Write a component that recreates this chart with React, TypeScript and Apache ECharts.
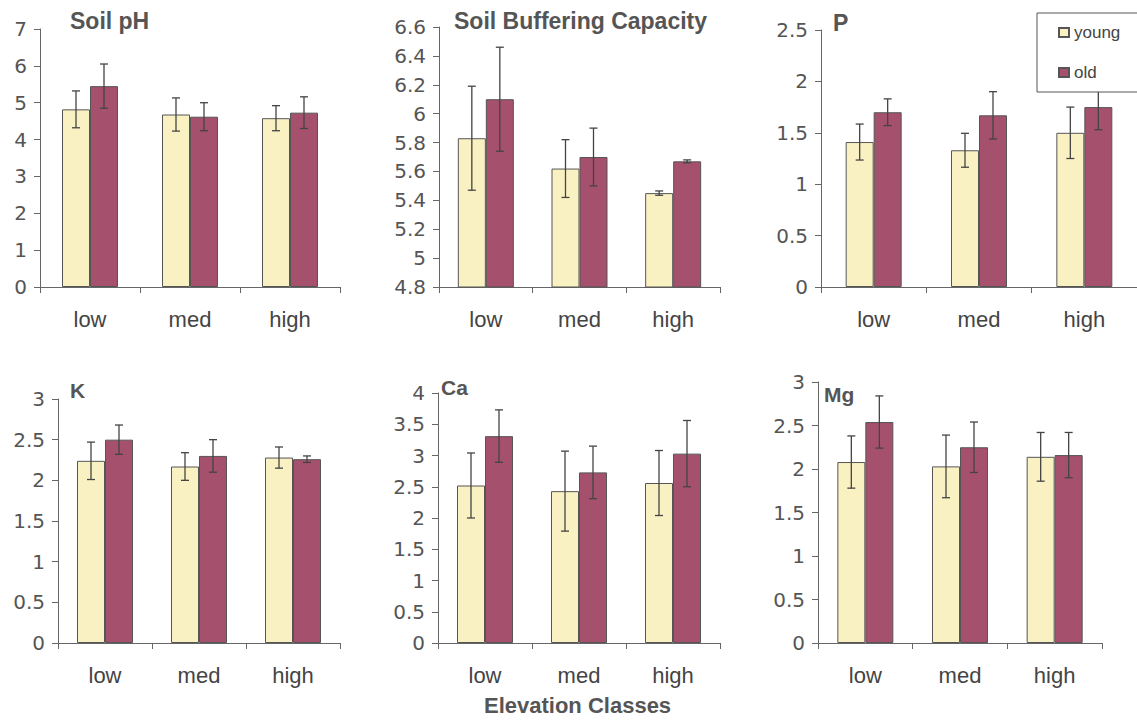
import React, { useEffect, useRef } from "react";
import * as echarts from "echarts";

const categories = ["low", "med", "high"];
const seriesNames = ["young", "old"];

const panelTitles = ["Soil pH", "Soil Buffering Capacity", "P", "K", "Ca", "Mg"];

const phYoung = [4.82, 4.68, 4.58];
const phYoungErr = [0.5, 0.45, 0.34];
const phOld = [5.45, 4.62, 4.73];
const phOldErr = [0.6, 0.38, 0.43];

const bufYoung = [5.83, 5.62, 5.45];
const bufYoungErr = [0.36, 0.2, 0.015];
const bufOld = [6.1, 5.7, 5.67];
const bufOldErr = [0.36, 0.2, 0.01];

const pYoung = [1.41, 1.33, 1.5];
const pYoungErr = [0.175, 0.165, 0.25];
const pOld = [1.7, 1.67, 1.75];
const pOldErr = [0.13, 0.23, 0.22];

const kYoung = [2.24, 2.17, 2.28];
const kYoungErr = [0.23, 0.17, 0.13];
const kOld = [2.5, 2.3, 2.26];
const kOldErr = [0.18, 0.2, 0.04];

const caYoung = [2.52, 2.43, 2.56];
const caYoungErr = [0.52, 0.64, 0.52];
const caOld = [3.31, 2.73, 3.03];
const caOldErr = [0.42, 0.42, 0.53];

const mgYoung = [2.08, 2.03, 2.14];
const mgYoungErr = [0.3, 0.36, 0.28];
const mgOld = [2.54, 2.25, 2.16];
const mgOldErr = [0.3, 0.29, 0.26];

// y axis ranges: [min, max, interval]
const yRanges = [
  [0, 7, 1],
  [4.8, 6.6, 0.2],
  [0, 2.5, 0.5],
  [0, 3, 0.5],
  [0, 4, 0.5],
  [0, 3, 0.5],
];

const xLabel = "Elevation Classes";

const YOUNG_COLOR = "#faf1c2";
const OLD_COLOR = "#a5506d";
const BORDER = "#555555";
const TEXT = "#555555";

export default function App() {
  const ref = useRef<HTMLDivElement>(null);

  useEffect(() => {
    if (!ref.current) return;
    const chart = echarts.init(ref.current, null, { renderer: "svg" });

    const panels = [
      { y: phYoung, ye: phYoungErr, o: phOld, oe: phOldErr },
      { y: bufYoung, ye: bufYoungErr, o: bufOld, oe: bufOldErr },
      { y: pYoung, ye: pYoungErr, o: pOld, oe: pOldErr },
      { y: kYoung, ye: kYoungErr, o: kOld, oe: kOldErr },
      { y: caYoung, ye: caYoungErr, o: caOld, oe: caOldErr },
      { y: mgYoung, ye: mgYoungErr, o: mgOld, oe: mgOldErr },
    ];

    const grids = [
      { left: 40, top: 29, width: 300, height: 258 },
      { left: 439, top: 27, width: 281, height: 260 },
      { left: 821, top: 30, width: 316, height: 257 },
      { left: 58, top: 399, width: 282, height: 244 },
      { left: 438, top: 393, width: 282, height: 250 },
      { left: 818, top: 382, width: 284, height: 261 },
    ];

    const titlePos = [
      { left: 70, top: 9, size: 23 },
      { left: 454, top: 9, size: 23 },
      { left: 833, top: 11, size: 23 },
      { left: 70, top: 380, size: 21 },
      { left: 441, top: 377, size: 21 },
      { left: 824, top: 384, size: 21 },
    ];

    const BAR_W = 28;

    const errRender = (offset: number) => (params: any, api: any) => {
      const x = api.value(0);
      const v = api.value(1);
      const e = api.value(2);
      const top = api.coord([x, v + e]);
      const bot = api.coord([x, v - e]);
      const cx = top[0] + offset;
      const cap = 4;
      const style = { stroke: "#444444", lineWidth: 1.3 };
      return {
        type: "group",
        children: [
          { type: "line", shape: { x1: cx, y1: top[1], x2: cx, y2: bot[1] }, style },
          { type: "line", shape: { x1: cx - cap, y1: top[1], x2: cx + cap, y2: top[1] }, style },
          { type: "line", shape: { x1: cx - cap, y1: bot[1], x2: cx + cap, y2: bot[1] }, style },
        ],
      };
    };

    const series: any[] = [];
    panels.forEach((p, i) => {
      series.push({
        name: seriesNames[0],
        type: "bar",
        xAxisIndex: i,
        yAxisIndex: i,
        data: p.y,
        barWidth: BAR_W,
        barGap: "0%",
        itemStyle: { color: YOUNG_COLOR, borderColor: BORDER, borderWidth: 1 },
      });
      series.push({
        name: seriesNames[1],
        type: "bar",
        xAxisIndex: i,
        yAxisIndex: i,
        data: p.o,
        barWidth: BAR_W,
        barGap: "0%",
        itemStyle: { color: OLD_COLOR, borderColor: BORDER, borderWidth: 1 },
      });
      series.push({
        type: "custom",
        xAxisIndex: i,
        yAxisIndex: i,
        z: 5,
        renderItem: errRender(-BAR_W / 2),
        data: p.y.map((v, k) => [k, v, p.ye[k]]),
        silent: true,
      });
      series.push({
        type: "custom",
        xAxisIndex: i,
        yAxisIndex: i,
        z: 5,
        renderItem: errRender(BAR_W / 2),
        data: p.o.map((v, k) => [k, v, p.oe[k]]),
        silent: true,
      });
    });

    const option: any = {
      animation: false,
      backgroundColor: "#ffffff",
      title: [
        ...panelTitles.map((t, i) => ({
          text: t,
          left: titlePos[i].left,
          top: titlePos[i].top,
          padding: 0,
          textStyle: {
            fontFamily: "Liberation Sans",
            fontWeight: "bold",
            fontSize: titlePos[i].size,
            color: TEXT,
          },
        })),
        {
          text: xLabel,
          left: 484,
          top: 694,
          padding: 0,
          textStyle: {
            fontFamily: "Liberation Sans",
            fontWeight: "bold",
            fontSize: 22,
            color: TEXT,
          },
        },
      ],
      legend: {
        data: seriesNames,
        orient: "vertical",
        left: 1037,
        top: 13,
        padding: [11, 30, 11, 21],
        itemGap: 23,
        itemWidth: 10,
        itemHeight: 9,
        borderColor: "#555555",
        borderWidth: 1,
        backgroundColor: "#ffffff",
        icon: "rect",
        textStyle: { fontFamily: "Liberation Sans", fontSize: 17, color: "#444444" },
        z: 20,
      },
      grid: grids.map((g) => ({ ...g, containLabel: false })),
      xAxis: grids.map((g, i) => ({
        type: "category",
        gridIndex: i,
        data: categories,
        boundaryGap: true,
        axisLine: { lineStyle: { color: "#666666", width: 1 } },
        axisTick: { show: true, inside: false, length: 6, interval: 0, lineStyle: { color: "#666666" } },
        axisLabel: {
          margin: 21,
          fontFamily: "Liberation Sans",
          fontSize: 22,
          color: "#444444",
        },
        splitLine: { show: false },
      })),
      yAxis: grids.map((g, i) => ({
        type: "value",
        gridIndex: i,
        min: yRanges[i][0],
        max: yRanges[i][1],
        interval: yRanges[i][2],
        axisLine: { show: true, lineStyle: { color: "#666666", width: 1 } },
        axisTick: { show: true, inside: false, length: 6, lineStyle: { color: "#666666" } },
        axisLabel: {
          margin: 13,
          fontFamily: "DejaVu Sans",
          fontSize: 20,
          color: TEXT,
        },
        splitLine: { show: false },
      })),
      series,
    };

    chart.setOption(option);
    return () => chart.dispose();
  }, []);

  return (
    <div
      ref={ref}
      style={{ position: "fixed", left: 0, top: 0, width: 1137, height: 720, background: "#fff" }}
    />
  );
}
